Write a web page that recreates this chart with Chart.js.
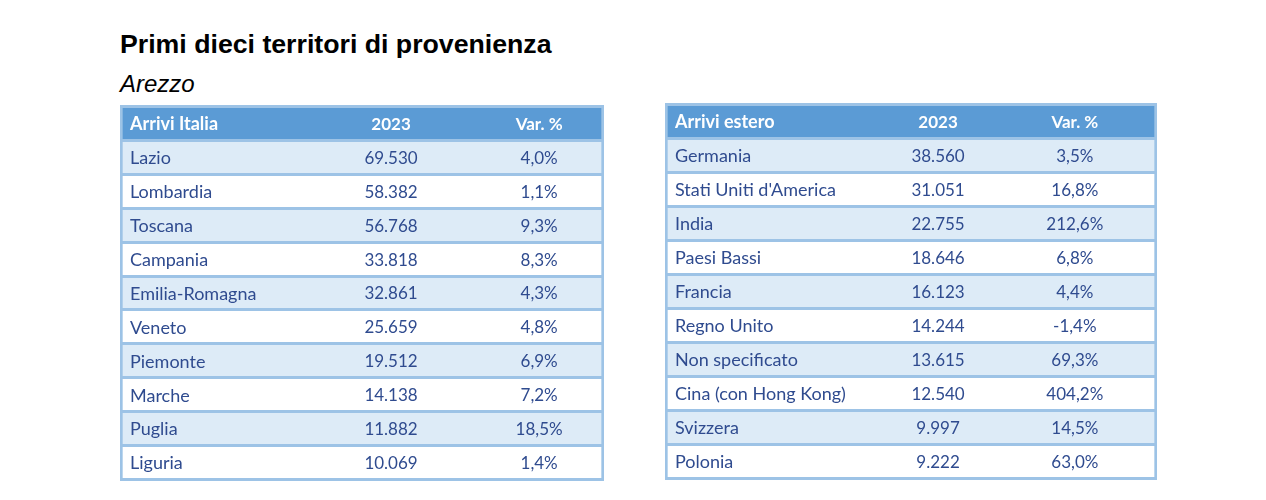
<!DOCTYPE html>
<html>
<head>
<meta charset="utf-8">
<script src="https://cdn.jsdelivr.net/npm/chart.js@4.4.1/dist/chart.umd.min.js"></script>
<style>
    body { margin: 0; background: #fff; width: 1266px; height: 500px; position: relative; overflow: hidden; }
    .titolo { position: absolute; left: 120px; top: 31.4px; font: bold 26.7px "Liberation Sans", Arial, sans-serif; line-height: 1; color: #000; white-space: nowrap; }
    .sottotitolo { position: absolute; left: 120px; top: 71.7px; font: italic 24px "Liberation Sans", Arial, sans-serif; line-height: 1; color: #000; }
    .tabella { position: absolute; }
</style>
</head>
<body>
<div class="titolo">Primi dieci territori di provenienza</div>
<div class="sottotitolo">Arezzo</div>
<div class="tabella" style="left:120px; top:104px;"><canvas id="italia" width="484" height="378"></canvas></div>
<div class="tabella" style="left:665px; top:102px;"><canvas id="estero" width="492" height="379"></canvas></div>

<script>
var intestazioneColonne = ['2023', 'Var. %'];

var regioniItalia = ['Lazio', 'Lombardia', 'Toscana', 'Campania', 'Emilia-Romagna', 'Veneto', 'Piemonte', 'Marche', 'Puglia', 'Liguria'];
var arriviItalia = [69530, 58382, 56768, 33818, 32861, 25659, 19512, 14138, 11882, 10069];
var varItalia = [4.0, 1.1, 9.3, 8.3, 4.3, 4.8, 6.9, 7.2, 18.5, 1.4];

var paesiEstero = ['Germania', "Stati Uniti d'America", 'India', 'Paesi Bassi', 'Francia', 'Regno Unito', 'Non specificato', 'Cina (con Hong Kong)', 'Svizzera', 'Polonia'];
var arriviEstero = [38560, 31051, 22755, 18646, 16123, 14244, 13615, 12540, 9997, 9222];
var varEstero = [3.5, 16.8, 212.6, 6.8, 4.4, -1.4, 69.3, 404.2, 14.5, 63.0];

var BLU_TESTATA = '#5B9BD5';
var AZZURRO_RIGA = '#DDEBF7';
var BORDO = '#9DC3E6';
var TESTO = '#2F4B8F';
var FONT = 'Lato, "Noto Sans", sans-serif';

function formattaMigliaia(n) {
    return String(n).replace(/\B(?=(\d{3})+(?!\d))/g, '.');
}

function formattaPerc(v) {
    return v.toFixed(1).replace('.', ',') + '%';
}

// disegna le colonne numeriche al centro delle righe
var colonnePlugin = {
    id: 'colonne',
    afterDraw: function(chart) {
        var ctx = chart.ctx;
        var xs = chart.scales.x;
        var ys = chart.scales.y;
        var cfg = chart.options.plugins.colonne;
        ctx.save();
        ctx.textAlign = 'center';
        ctx.textBaseline = 'middle';
        chart.data.labels.forEach(function(label, i) {
            var y = ys.getPixelForValue(i);
            var testi;
            if (i === 0) {
                testi = intestazioneColonne;
                ctx.fillStyle = '#FFFFFF';
                ctx.font = 'bold 17px ' + FONT;
            } else {
                testi = [formattaMigliaia(cfg.arrivi[i - 1]), formattaPerc(cfg.variazioni[i - 1])];
                ctx.fillStyle = TESTO;
                ctx.font = '17px ' + FONT;
            }
            testi.forEach(function(t, c) {
                ctx.fillText(t, xs.getPixelForValue(cfg.posizioni[c]), y + 1);
            });
        });
        ctx.restore();
    }
};

function creaTabella(id, titolo, nomi, arrivi, variazioni, posizioni) {
    var etichette = [titolo].concat(nomi);
    var righe = etichette.map(function() { return [0, 100]; });
    var ctx = document.getElementById(id).getContext('2d');

    return new Chart(ctx, {
        type: 'bar',
        data: {
            labels: etichette,
            datasets: [{
                data: righe,
                backgroundColor: function(c) {
                    if (c.dataIndex === 0) return BLU_TESTATA;
                    return c.dataIndex % 2 === 1 ? AZZURRO_RIGA : '#FFFFFF';
                },
                borderColor: BORDO,
                borderWidth: { left: 3, right: 3, top: 0, bottom: 0 },
                borderSkipped: false,
                barPercentage: 1,
                categoryPercentage: 1
            }]
        },
        options: {
            indexAxis: 'y',
            responsive: false,
            animation: false,
            layout: { padding: { top: 2.5, bottom: 2.5, left: 0, right: 0 } },
            scales: {
                x: { display: false, min: 0, max: 100 },
                y: {
                    afterFit: function(scale) {
                        scale.width = 0;
                        scale.paddingTop = 0;
                        scale.paddingBottom = 0;
                    },
                    grid: { offset: true, lineWidth: 3, color: BORDO, drawTicks: false, z: 1 },
                    border: { display: false },
                    ticks: {
                        z: 1,
                        mirror: true,
                        padding: 10,
                        labelOffset: 1,
                        autoSkip: false,
                        color: function(c) { return c.index === 0 ? '#FFFFFF' : TESTO; },
                        font: function(c) {
                            return { family: FONT, size: 18, weight: c.index === 0 ? 'bold' : 'normal' };
                        }
                    }
                }
            },
            plugins: {
                legend: { display: false },
                tooltip: { enabled: false },
                colonne: { arrivi: arrivi, variazioni: variazioni, posizioni: posizioni }
            }
        },
        plugins: [colonnePlugin]
    });
}

creaTabella('italia', 'Arrivi Italia', regioniItalia, arriviItalia, varItalia, [56, 86.6]);
creaTabella('estero', 'Arrivi estero', paesiEstero, arriviEstero, varEstero, [55.5, 83.3]);
</script>
</body>
</html>
